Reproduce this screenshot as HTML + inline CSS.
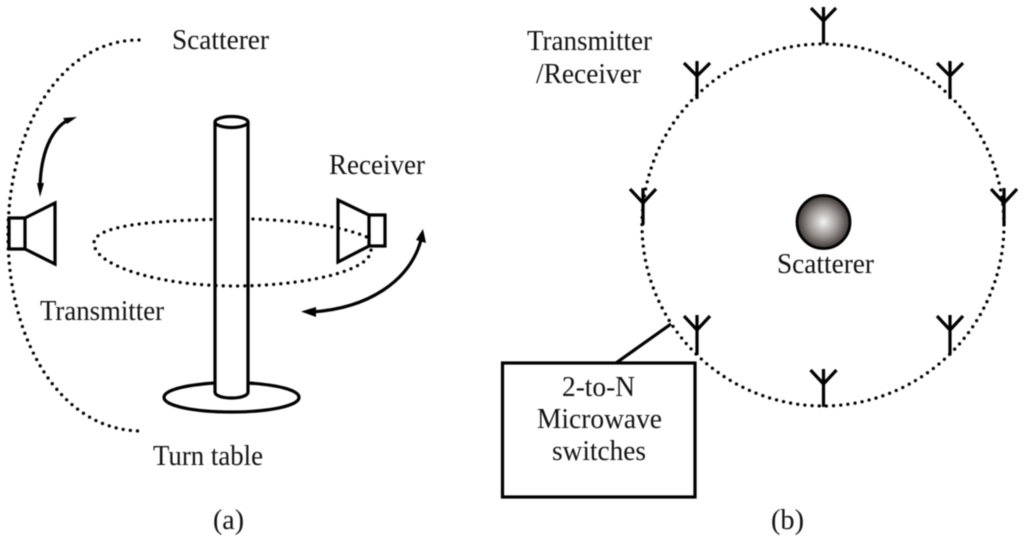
<!DOCTYPE html>
<html><head><meta charset="utf-8"><style>
html,body{margin:0;padding:0;background:#fff}
svg{display:block;filter:blur(.4px)}
text{font-family:"Liberation Serif",serif;font-size:28px;fill:#111}
.s{fill:none;stroke:#000;stroke-width:3.200}
.d{fill:none;stroke:#000;stroke-width:3.300;stroke-dasharray:0 7.200;stroke-linecap:round}
.a{fill:none;stroke:#000;stroke-width:3.200}
</style></head><body>
<svg width="1024" height="540" viewBox="0 0 1024 540" xmlns="http://www.w3.org/2000/svg">
<defs><radialGradient id="g"><stop offset="0" stop-color="#f5f5f5"/><stop offset=".55" stop-color="#9a9492"/><stop offset="1" stop-color="#3a3432"/></radialGradient></defs>
<rect width="1024" height="540" fill="#fff"/>
<!-- left -->
<path class="d" d="M139 40C60 40 8 130 8 235C8 340 60 430 140 431"/>
<path class="d" d="M211 219.500C150 221 94 226 94 243C94 266 160 286 235 286C300 286 371 272 371 250"/>
<path class="d" d="M253 219C300 221 345 226 371 239"/>
<path class="s" d="M215 392V122M248 392V122"/>
<ellipse class="s" cx="231.500" cy="122" rx="16.500" ry="5.500" fill="#fff"/>
<path class="s" d="M215 383C185 385 164 390 164 397.500C164 406 195 412 231.500 412C268 412 299 406 299 397.500C299 390 278 385 248 383"/>
<path class="s" d="M215 392C215 400 248 400 248 392"/>
<path class="s" d="M9 218H25V249H9ZM25 218L55 203V264L25 249"/>
<path class="s" d="M369 215H385V246H369ZM369 215L338 200V262L369 246Z"/>
<path class="a" d="M40 186C41 155 50 130 68 120"/>
<path d="M37 183L44 183L40 197ZM63 118L77 117L67 124Z" fill="#000"/>
<path class="a" d="M421 240C410 280 370 308 312 312"/>
<path d="M416 240L426 243L423 229ZM316 307L316 317L301 311.500Z" fill="#000"/>
<text x="172" y="49" textLength="97" lengthAdjust="spacingAndGlyphs">Scatterer</text>
<text x="329" y="174" textLength="96" lengthAdjust="spacingAndGlyphs">Receiver</text>
<text x="40" y="320" textLength="124" lengthAdjust="spacingAndGlyphs">Transmitter</text>
<text x="153" y="465" textLength="110" lengthAdjust="spacingAndGlyphs">Turn table</text>
<text x="213" y="529" textLength="31" lengthAdjust="spacingAndGlyphs">(a)</text>
<!-- right -->
<circle class="d" cx="823" cy="225" r="181" stroke-dasharray="0 7.300"/>
<path class="s" d="M823.500 44V7M811 8L823.500 21L836 8"/>
<path class="s" d="M697 99V61M684 63L697 76L710 63"/>
<path class="s" d="M950 99V61M937 63L950 76L963 63"/>
<path class="s" d="M643 225V188M630 189L643 203L656 189"/>
<path class="s" d="M1004 225V188M991 189L1004 203L1017 189"/>
<path class="s" d="M697 355V315M684 316L697 330L710 316"/>
<path class="s" d="M823.500 407V369M810.500 370L823.500 384L836.500 370"/>
<path class="s" d="M950 355V315M937 316L950 330L963 316"/>
<circle cx="823.500" cy="222" r="26.500" fill="url(#g)" stroke="#000" stroke-width="2.800"/>
<rect class="s" x="502.500" y="363" width="192.500" height="134" fill="#fff"/>
<path class="s" d="M616 363L671 324"/>
<text x="527" y="50" textLength="125" lengthAdjust="spacingAndGlyphs">Transmitter</text>
<text x="536" y="83" textLength="105" lengthAdjust="spacingAndGlyphs">/Receiver</text>
<text x="777" y="273" textLength="97" lengthAdjust="spacingAndGlyphs">Scatterer</text>
<text x="562" y="396" textLength="73" lengthAdjust="spacingAndGlyphs">2-to-N</text>
<text x="537" y="428" textLength="125" lengthAdjust="spacingAndGlyphs">Microwave</text>
<text x="552" y="460" textLength="94" lengthAdjust="spacingAndGlyphs">switches</text>
<text x="771" y="529" textLength="33" lengthAdjust="spacingAndGlyphs">(b)</text>
</svg>
</body></html>
